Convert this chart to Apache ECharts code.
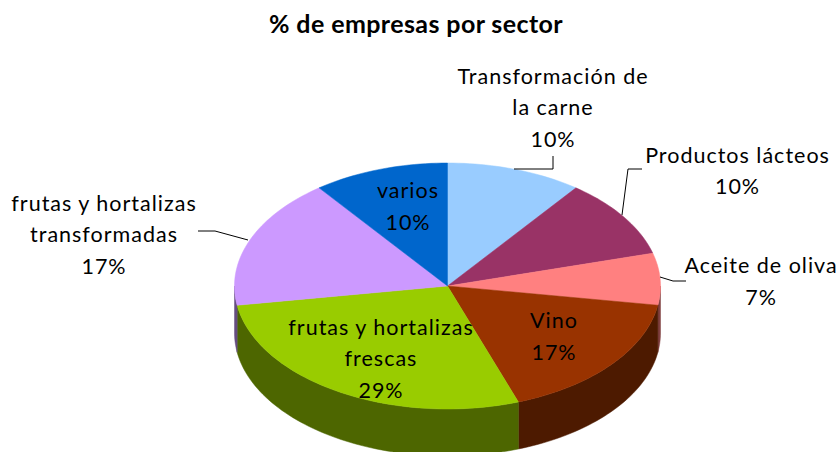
<!DOCTYPE html>
<html>
<head>
<meta charset="utf-8">
<style>
html,body{margin:0;padding:0;background:#fff}
#c{width:838px;height:452px}
#c svg text{letter-spacing:1px}
#c svg text[style*="bold"]{letter-spacing:.4px}
</style>
<script src="https://cdn.jsdelivr.net/npm/echarts@6/dist/echarts.min.js"></script>
</head>
<body>
<div id="c"></div>
<script>
const titleText = '% de empresas por sector';
const categories = ['Transformación de\nla carne', 'Productos lácteos', 'Aceite de oliva', 'Vino', 'frutas y hortalizas\nfrescas', 'frutas y hortalizas\ntransformadas', 'varios'];
const percentLabels = ['10%', '10%', '7%', '17%', '29%', '17%', '10%'];
const shares = [10.3, 10.4, 6.8, 17.1, 27.9, 17.2, 10.3];
const topColors = ['#99CCFF', '#993366', '#FF8080', '#993300', '#99CC00', '#CC99FF', '#0066CC'];
const wallColors = ['#4D6680', '#4D1A33', '#804040', '#4D1A00', '#4D6600', '#664D80', '#003366'];
const labelCenters = [[553, 107], [737.5, 170.5], [761, 281], [554, 336], [381, 358], [104, 234], [408, 206]];
const leaderLines = [
  [[514, 169], [553, 169], [553, 156]],
  [[622, 215], [628, 169], [642, 169]],
  [[660, 277], [673, 281], [686, 281]],
  null, null,
  [[248, 240], [215, 231], [198, 231]],
  null
];
const pie = { cx: 447.5, cy: 286, rx: 213, ry: 123, depth: 47 };

const total = shares.reduce((a, b) => a + b, 0);
const starts = shares.map((_, i) => shares.slice(0, i).reduce((a, b) => a + b, 0));

function pt(deg, dy) {
  const r = deg * Math.PI / 180;
  return [pie.cx + pie.rx * Math.sin(r), pie.cy - pie.ry * Math.cos(r) + (dy || 0)];
}
function arc(a0, a1, dy) {
  const n = Math.max(2, Math.ceil(Math.abs(a1 - a0) / 1.5));
  const out = [];
  for (let i = 0; i <= n; i++) out.push(pt(a0 + (a1 - a0) * i / n, dy));
  return out;
}

function renderItem(params, api) {
  const i = params.dataIndex;
  const a0 = api.value(1) / total * 360;
  const a1 = a0 + api.value(0) / total * 360;
  const children = [];
  const w0 = Math.max(a0, 90), w1 = Math.min(a1, 270);
  if (w1 > w0) {
    children.push({
      type: 'polygon', z2: 1,
      shape: { points: arc(w0, w1, 0).concat(arc(w1, w0, pie.depth)) },
      style: { fill: wallColors[i], stroke: wallColors[i], lineWidth: 0.5 }
    });
  }
  children.push({
    type: 'polygon', z2: 2,
    shape: { points: [[pie.cx, pie.cy]].concat(arc(a0, a1, 0)) },
    style: { fill: topColors[i], stroke: topColors[i], lineWidth: 0.5 }
  });
  if (leaderLines[i]) {
    children.push({
      type: 'polyline', z2: 3,
      shape: { points: leaderLines[i] },
      style: { fill: 'none', stroke: '#000', lineWidth: 1 }
    });
  }
  children.push({
    type: 'text', z2: 10,
    x: labelCenters[i][0], y: labelCenters[i][1],
    style: {
      text: categories[i] + '\n' + percentLabels[i],
      fill: '#000', align: 'center', verticalAlign: 'middle',
      font: '21.5px Lato', lineHeight: 31.5
    }
  });
  return { type: 'group', children };
}

const chart = echarts.init(document.getElementById('c'), null, { renderer: 'svg' });
chart.setOption({
  animation: false,
  backgroundColor: '#ffffff',
  title: {
    text: titleText, left: 411, top: 5, textAlign: 'center',
    textStyle: { fontFamily: 'Lato', fontWeight: 'bold', fontSize: 25, color: '#000' }
  },
  series: [{
    type: 'custom',
    coordinateSystem: 'none',
    silent: true,
    renderItem,
    data: shares.map((v, i) => [v, starts[i]])
  }]
});
</script>
</body>
</html>
